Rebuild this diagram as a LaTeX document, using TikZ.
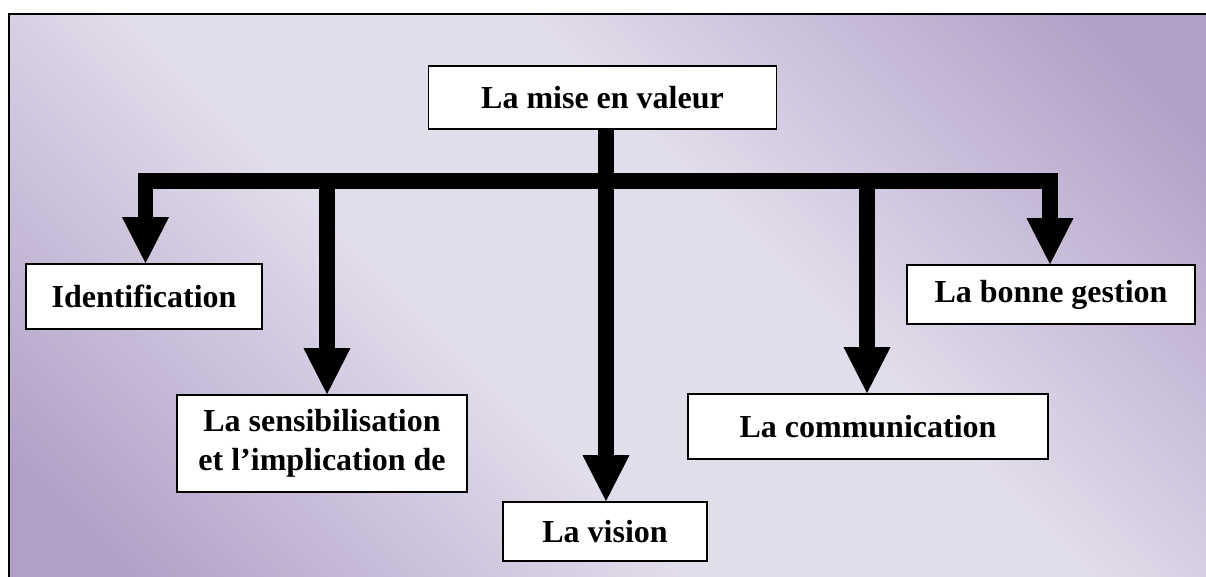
\documentclass[tikz,border=0pt]{standalone}
\usepackage{fontspec}
\setmainfont{Liberation Serif}
\usetikzlibrary{arrows.meta}
\pgfdeclarehorizontalshading{bgshade}{100bp}{%
  rgb(0bp)=(0.690,0.627,0.780);
  rgb(19bp)=(0.690,0.627,0.780);
  rgb(42bp)=(0.886,0.867,0.922);
  rgb(58bp)=(0.886,0.867,0.922);
  rgb(81bp)=(0.690,0.627,0.780);
  rgb(100bp)=(0.690,0.627,0.780)}
\tikzset{
  box/.style={draw=black, line width=1.8pt, fill=white, inner sep=0pt,
    align=center, font=\fontsize{32}{39}\selectfont\bfseries},
  bar/.style={draw=black, line width=15.5pt},
  bararrow/.style={bar, -{Triangle[length=46pt,width=47pt,line width=0pt]}},
}
\begin{document}
\begin{tikzpicture}[x=1pt,y=-1pt]
\useasboundingbox (0,0) rectangle (1206,577);
\clip (0,0) rectangle (1206,577);
% background
\shade[shading=bgshade, shading angle=45] (9,14) rectangle (1206,577);
\draw[line width=2pt] (9,14) rectangle (1230,600);
% nodes
\node[box, minimum width=348pt, minimum height=63pt] (top) at (602.5,97.5) {La mise en valeur};
\node[box, minimum width=236pt, minimum height=65pt] (ident) at (144,296.5) {Identification};
\node[box, minimum width=290pt, minimum height=97pt] (sens) at (322,443.5) {La sensibilisation\\et l’implication de};
\node[box, minimum width=204pt, minimum height=59pt] (vision) at (605,531.5) {La vision};
\node[box, minimum width=360pt, minimum height=65pt] (comm) at (868,426.5) {La communication};
\node[box, minimum width=288pt, minimum height=59pt] (gest) at (1051,294.5) {La bonne gestion};
% connectors
\coordinate (hub) at (606,181);
\coordinate (b1) at (145.5,181);
\coordinate (b2) at (327,181);
\coordinate (b4) at (867,181);
\coordinate (b5) at (1050,181);
\draw[bar] (top.south -| hub) -- (hub);
\draw[bar, line cap=rect] (b1) -- (b5);
\draw[bararrow] (hub) -- (hub |- vision.north);
\draw[bararrow] (b1) -- (b1 |- ident.north);
\draw[bararrow] (b2) -- (b2 |- sens.north);
\draw[bararrow] (b4) -- (b4 |- comm.north);
\draw[bararrow] (b5) -- (b5 |- gest.north);
\end{tikzpicture}
\end{document}
